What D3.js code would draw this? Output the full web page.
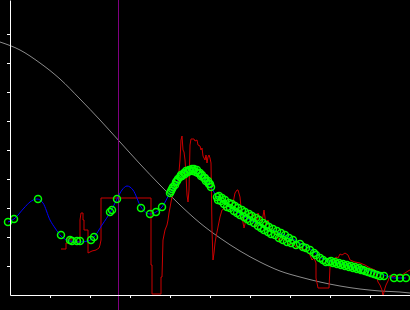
<!DOCTYPE html>
<html>
<head>
<meta charset="utf-8">
<title>Signal fit</title>
<style>
  body { margin: 0; background: #000; }
  svg { display: block; background: #000; }
</style>
<script src="https://d3js.org/d3.v7.min.js"></script>
</head>
<body>
<div id="chart"></div>
<script>
// reference envelope (gray)
var envelope = [[-10,253],[10,245],[30,232],[50,216],[70,196],[90,175],[110,153],[130,131],
  [150,110],[170,90],[190,72],[210,57],[230,44],[250,33],[270,24],[290,18],[310,13],
  [330,9],[350,6],[370,4],[390,3],[400,2]];

// smoothed fit (blue)
var smoothed = [[-2,73],[4,76],[14,87],[20,93],[27,96],[33,92],[40,75],[45,67],[51,59],
  [60,54],[70,53],[78,54],[84,58],[92,70],[101,84],[107,96],[112,105],[117,109],[123,105],
  [131,88],[140,81],[146,83],[152,88],[160,102],[166,111],[172,120],[178,124],[183,125],
  [189,122],[195,116],[201,108],[207,98],[215,91],[225,84],[240,75],[255,68],[270,62],
  [285,55],[295,49],[303,44],[310,38],[318,34],[330,32],[345,28],[360,24],[374,20],
  [384,17],[390,17],[396,17]];

// raw measurement (red)
var measured = [[51,46],[56,46],[56,52],[58,52],[58,58],[61,58],[61,53],[70,53],[70,75],
  [71,82],[73,82],[73,75],[74,75],[74,65],[78,65],[78,42],[82,44],[86,45],[89,47],[90,50],
  [91,55],[91,97],[141,97],[141,30],[142,30],[142,1],[151,1],[151,18],[152,18],[153,55],
  [155,65],[157,70],[158,75],[159,82],[161,93],[162,98],[163,102],[166,109],[168,112],
  [170,135],[171,155],[172,159],[173,145],[174,143],[175,135],[176,120],[177,100],[178,93],
  [179,105],[180,150],[181,156],[184,156],[185,154],[187,155],[188,150],[190,149],[191,145],
  [192,147],[193,139],[195,135],[196,140],[197,132],[198,138],[199,140],[200,137],[201,132],
  [202,65],[203,35],[204,42],[205,52],[206,58],[208,68],[210,78],[212,85],[215,87],[218,89],
  [220,90],[223,92],[225,102],[227,105],[228,105],[230,98],[232,78],[234,67],[236,75],
  [238,80],[240,83],[242,80],[244,80],[246,68],[248,82],[250,77],[252,73],[254,85],[256,70],
  [258,75],[260,65],[262,67],[265,63],[268,57],[270,52],[272,57],[275,55],[280,50],[283,52],
  [286,48],[290,47],[295,45],[300,40],[302,35],[304,37],[306,32],[306,17],[308,7],[319,7],
  [320,28],[322,33],[325,35],[326,38],[328,37],[330,41],[332,40],[335,42],[338,40],[340,35],
  [345,33],[350,32],[355,30],[360,27],[365,25],[368,13],[370,10],[372,5],[373,-1],[375,7],
  [376,10],[378,14],[380,20],[383,18],[388,20],[392,20],[395,22],[398,24],[400,25]];

// sampled points (green rings)
var samples = [[-2,73],[4,76],[28,96],[51,60],[60,55],[62,54],[67,54],[70,54],[81,55],[84,58],
  [100,83],[102,85],[107,96],[131,87],[140,81],[146,83],[152,88],
  [160,102],[161,104],[162,106],[163,108],[165,110],[166,113],[167,114],[168,116],[170,118],
  [171,120],[172,119],[174,122],[175,121],[176,124],[178,123],[179,125],[180,124],[182,126],
  [183,124],[184,126],[186,123],[187,125],[188,122],[190,122],[191,119],[192,120],[194,117],
  [195,117],[196,114],[198,114],[199,111],[200,111],[201,108],
  [207,98],[208,95],[209,99],[211,94],[212,97],[214,91],[215,95],[217,88],[219,92],[220,87],
  [222,91],[224,84],[225,89],[227,82],[228,87],[230,80],[232,85],[234,78],[235,83],[237,76],
  [239,81],[240,74],[242,79],[244,72],[246,77],[248,69],[249,75],[251,67],[253,72],[254,65],
  [256,70],[258,63],[259,68],[261,61],[263,66],[265,60],[267,64],[269,57],[271,62],[273,55],
  [275,60],[277,53],[279,57],[281,52],[283,55],[286,50],[290,51],[293,48],[296,47],[300,45],
  [304,42],[306,40],[310,37],[313,35],[316,33],[319,33],[321,34],[323,32],[325,33],[327,31],
  [329,32],[331,30],[333,31],[335,29],[337,30],[339,28],[341,29],[343,27],[345,28],[347,26],
  [349,27],[351,25],[353,25],[355,24],[358,23],[361,22],[364,21],[367,20],[370,19],[374,19],
  [384,17],[390,17],[396,17]];

var markerX = 108;
var xTicks = [40, 80, 120, 160, 200, 240, 280, 320, 360];
var yTicks = [29, 58, 87, 116, 145, 174, 203, 232, 261];

var width = 410, height = 310;

var x = d3.scaleLinear().domain([0, 400]).range([10, 410]);
var y = d3.scaleLinear().domain([0, 295]).range([295, 0]);

var svg = d3.select("#chart").append("svg")
  .attr("width", width)
  .attr("height", height);

svg.append("rect")
  .attr("width", width)
  .attr("height", height)
  .attr("fill", "#000");

var line = d3.line()
  .x(d => x(d[0]))
  .y(d => y(d[1]));

// gray envelope
svg.append("path")
  .datum(envelope)
  .attr("fill", "none")
  .attr("stroke", "#8c8c8c")
  .attr("stroke-width", 1)
  .attr("d", line.curve(d3.curveMonotoneX));

// red raw data
svg.append("path")
  .datum(measured)
  .attr("fill", "none")
  .attr("stroke", "#cc0000")
  .attr("stroke-width", 1)
  .attr("d", line.curve(d3.curveLinear));

// blue fit
svg.append("path")
  .datum(smoothed)
  .attr("fill", "none")
  .attr("stroke", "#0000ff")
  .attr("stroke-width", 1)
  .attr("d", line.curve(d3.curveMonotoneX));

// purple marker
svg.append("line")
  .attr("x1", x(markerX) + 0.5)
  .attr("x2", x(markerX) + 0.5)
  .attr("y1", 0)
  .attr("y2", height)
  .attr("stroke", "#800080")
  .attr("stroke-width", 1);

// green rings
svg.append("g")
  .selectAll("circle")
  .data(samples)
  .enter()
  .append("circle")
  .attr("cx", d => x(d[0]))
  .attr("cy", d => y(d[1]))
  .attr("r", 3.5)
  .attr("fill", "none")
  .attr("stroke", "#00ff00")
  .attr("stroke-width", 1.5);

// axes
svg.append("g")
  .attr("color", "#fff")
  .attr("transform", "translate(10,0)")
  .call(d3.axisLeft(y).tickValues(yTicks).tickSize(3).tickSizeOuter(0).tickFormat(""));

svg.append("g")
  .attr("color", "#fff")
  .attr("transform", "translate(0,295)")
  .call(d3.axisBottom(x).tickValues(xTicks).tickSize(3).tickSizeOuter(0).tickFormat(""));
</script>
</body>
</html>
